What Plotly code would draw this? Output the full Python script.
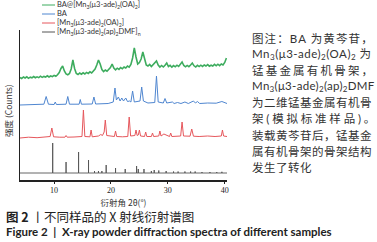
import plotly.graph_objects as go

# ---------------- data (2θ in degrees, intensity in arbitrary units above each pattern's baseline)
series_names = [
    "BA@[Mn<sub>3</sub>(μ3-ade)<sub>2</sub>(OA)<sub>2</sub>]",
    "BA",
    "[Mn<sub>3</sub>(μ3-ade)<sub>2</sub>(OA)<sub>2</sub>]",
    "[Mn<sub>3</sub>(μ3-ade)<sub>2</sub>(ap)<sub>2</sub>DMF]<sub>n</sub>",
]

green_2theta = [
    4.0, 4.3, 4.6, 4.9, 5.2, 5.5, 5.8, 6.1, 6.4, 6.7,
    7.0, 7.3, 7.6, 7.9, 8.2, 8.5, 8.8, 9.1, 9.4, 9.7,
    10.0, 10.3, 10.6, 10.9, 11.2, 11.5, 11.8, 12.1, 12.4, 12.7,
    13.0, 13.3, 13.6, 13.9, 14.2, 14.5, 14.8, 15.1, 15.4, 15.7,
    16.0, 16.3, 16.6, 16.9, 17.2, 17.5, 17.8, 18.1, 18.4, 18.7,
    19.0, 19.3, 19.6, 19.9, 20.2, 20.5, 20.8, 21.1, 21.4, 21.7,
    22.0, 22.3, 22.6, 22.9, 23.2, 23.5, 23.8, 24.1, 24.4, 24.7,
    25.0, 25.3, 25.6, 25.9, 26.2, 26.5, 26.8, 27.1, 27.4, 27.7,
    28.0, 28.3, 28.6, 28.9, 29.2, 29.5, 29.8, 30.1, 30.4, 30.7,
    31.0, 31.3, 31.6, 31.9, 32.2, 32.5, 32.8, 33.1, 33.4, 33.7,
    34.0, 34.3, 34.6, 34.9, 35.2, 35.5, 35.8, 36.1, 36.4, 36.7,
    37.0, 37.3, 37.6, 37.9, 38.2, 38.5, 38.8, 39.1, 39.4, 39.7,
    40.0, 40.3,
]
green_intensity = [
    0.5, -0.5, 1.0, 0.0, 1.2, -0.3, 0.8, 0.2, 1.5, 0.3,
    1.2, 0.4, 1.8, 0.6, 1.6, 0.9, 2.2, 1.0, 2.0, 1.3,
    2.6, 1.8, 3.2, 5.5, 9.5, 12.0, 7.0, 4.0, 3.2, 4.5,
    9.0, 18.0, 9.5, 4.5, 3.5, 5.0, 3.8, 5.2, 4.0, 5.6,
    4.6, 6.2, 5.0, 7.0, 9.0, 13.0, 18.0, 14.0, 8.5, 6.5,
    8.0, 6.8, 8.5, 10.5, 14.0, 10.0, 8.2, 9.8, 8.6, 10.5,
    9.2, 11.0, 10.0, 12.0, 10.8, 13.5, 20.0, 30.0, 21.0, 14.0,
    15.5, 19.0, 26.0, 18.0, 13.0, 12.0, 13.5, 11.5, 13.0, 14.5,
    17.0, 13.0, 11.0, 12.5, 11.0, 12.8, 15.0, 11.5, 12.6, 10.8,
    12.4, 11.2, 12.8, 11.6, 13.5, 16.0, 12.5, 11.2, 12.6, 11.4,
    13.0, 15.0, 12.2, 11.0, 12.6, 11.4, 12.8, 11.6, 13.0, 12.0,
    13.4, 11.8, 12.8, 12.0, 13.6, 12.2, 13.8, 12.4, 14.0, 13.0,
    15.5, 20.0,
]

blue_2theta = [
    4.0, 6.0, 8.2, 8.6, 9.0, 10.0, 10.2, 10.4, 12.1, 12.4,
    12.7, 14.4, 14.6, 14.8, 16.7, 17.0, 17.3, 19.5, 20.4, 20.7,
    20.95, 21.3, 21.6, 21.9, 22.2, 22.6, 22.9, 23.3, 23.5, 23.8,
    24.1, 25.1, 25.4, 25.7, 26.5, 27.7, 28.0, 28.3, 29.2, 29.5,
    29.8, 30.8, 31.1, 31.7, 32.3, 33.0, 33.6, 34.5, 34.85, 35.2,
    35.6, 37.0, 38.5, 39.5, 40.4,
]
blue_intensity = [
    0.0, 0.5, 0.8, 8.5, 0.8, 0.5, 3.0, 0.5, 0.8, 8.5,
    0.8, 0.8, 5.5, 0.8, 1.0, 8.0, 1.0, 1.5, 3.0, 17.0,
    5.0, 8.0, 4.0, 7.0, 4.0, 7.0, 3.5, 4.0, 3.0, 14.0,
    3.0, 4.0, 18.0, 4.0, 2.0, 2.5, 29.0, 3.0, 2.0, 6.5,
    2.0, 3.0, 1.5, 2.5, 1.5, 3.0, 1.5, 4.0, 2.0, 3.5,
    1.5, 2.0, 1.8, 3.5, 1.5,
]

red_2theta = [
    4.0, 5.5, 7.0, 8.5, 9.3, 9.6, 9.9, 11.0, 11.9, 12.1,
    12.3, 13.5, 14.9, 15.15, 15.4, 16.3, 16.5, 16.7, 17.8, 18.2,
    18.5, 18.8, 19.0, 19.25, 20.6, 20.8, 21.0, 22.0, 22.95, 23.2,
    23.45, 24.2, 24.4, 24.6, 24.8, 25.0, 25.2, 25.9, 26.1, 26.3,
    27.1, 27.3, 27.5, 28.4, 28.6, 28.8, 29.3, 30.3, 30.5, 30.7,
    31.5, 32.25, 32.5, 32.75, 33.9, 34.2, 34.5, 35.5, 37.0, 38.3,
    39.4, 39.6, 39.8, 40.4,
]
red_intensity = [
    0.0, 0.8, 0.3, 1.0, 1.5, 10.0, 1.2, 0.8, 0.8, 2.5,
    0.8, 1.0, 1.5, 28.0, 1.5, 1.2, 8.0, 1.2, 2.0, 3.5,
    2.5, 6.0, 18.0, 2.5, 1.5, 7.0, 1.5, 1.2, 1.5, 21.0,
    2.0, 2.5, 8.0, 2.5, 3.0, 8.0, 2.0, 1.5, 6.0, 1.5,
    1.5, 5.0, 1.5, 2.0, 7.0, 2.0, 4.0, 1.5, 5.0, 1.5,
    2.0, 2.0, 16.0, 2.0, 1.8, 9.0, 1.8, 1.5, 2.0, 1.5,
    2.0, 8.0, 2.0, 1.5,
]

# simulated standard pattern: stick positions and heights
black_2theta = [9.75, 12.1, 14.3, 16.05, 17.1, 17.8, 18.4, 19.15, 20.8, 22.5,
                24.5, 24.8, 25.8, 27.1, 27.6, 28.4, 29.7, 31.0, 31.8, 33.0,
                34.0, 34.8, 36.0, 37.4, 38.6, 39.5]
black_intensity = [30, 11, 21, 13, 2, 2, 2, 8, 5, 4,
                   7, 4, 4, 2, 3, 2.5, 2, 1.5, 1.5, 1.5,
                   1.5, 1.5, 1, 1, 1, 1.2]

x_ticks = [10, 20, 30, 40]
x_range = [4, 40.4]

# ---------------- styles / layout
colors = ["#3dac5e", "#4f86d0", "#e6575c", "#555555"]
offsets = [102, 75, 42, 7]

# build stick line for the simulated pattern
bx, by = [x_range[0]], [0]
for p, h in zip(black_2theta, black_intensity):
    bx += [p, p, p]
    by += [0, h, 0]
bx.append(x_range[1])
by.append(0)

fig = go.Figure()
data = [
    (green_2theta, green_intensity, 1.6),
    (blue_2theta, blue_intensity, 1.0),
    (red_2theta, red_intensity, 1.0),
    (bx, by, 0.9),
]
for (xs, ys, w), c, off, name in zip(data, colors, offsets, series_names):
    fig.add_trace(go.Scatter(
        x=xs, y=[v + off for v in ys], mode="lines", name=name,
        line=dict(color=c, width=w), showlegend=False, hoverinfo="skip",
    ))

L, T, W, H = 20, 30, 207, 150


def px(xp):
    return (xp - L) / W


def py(yp):
    return (T + H - yp) / H


shapes = []
annotations = []
# manual legend
for i, (name, c) in enumerate(zip(series_names, colors)):
    yy = [5, 14, 23, 32][i]
    shapes.append(dict(type="line", xref="paper", yref="paper",
                       x0=px(42), x1=px(55), y0=py(yy), y1=py(yy),
                       line=dict(color=c, width=1)))
    annotations.append(dict(xref="paper", yref="paper", x=px(55), y=py(yy),
                            xanchor="left", yanchor="middle", showarrow=False,
                            text=name, font=dict(size=7.5, color="#333", family="Lato")))

# y axis title
annotations.append(dict(xref="paper", yref="paper", x=px(8), y=py(111),
                        xanchor="center", yanchor="middle", showarrow=False,
                        textangle=-90, text="强度 (Counts)",
                        font=dict(size=8.5, color="#333", family="Noto Sans CJK SC")))

# side note
note_lines = [
    "图注：BA 为黄芩苷，",
    "Mn<sub>3</sub>(μ3-ade)<sub>2</sub>(OA)<sub>2</sub> 为",
    "锰基金属有机骨架，",
    "Mn<sub>3</sub>(μ3-ade)<sub>2</sub>(ap)<sub>2</sub>DMF",
    "为二维锰基金属有机骨",
    "架(模拟标准样品)。",
    "装载黄芩苷后，锰基金",
    "属有机骨架的骨架结构",
    "发生了转化",
]
note_spacing = ["1.1px", "0.5px", "2.2px", "0.3px", "0.5px", "2.8px", "0.5px", "0.5px", "0.5px"]
for i, (t, sp) in enumerate(zip(note_lines, note_spacing)):
    annotations.append(dict(xref="paper", yref="paper", x=px(250), y=py(38 + 16.2 * i),
                            xanchor="left", yanchor="middle", showarrow=False,
                            text=f'<span style="letter-spacing:{sp}">{t}</span>',
                            font=dict(size=11.5, color="#333",
                                      family="Lato, Noto Sans CJK SC")))

# captions
annotations.append(dict(xref="paper", yref="paper", x=px(4), y=py(216),
                        xanchor="left", yanchor="middle", showarrow=False,
                        text="<b>图 2</b> 丨不同样品的 X 射线衍射谱图",
                        font=dict(size=12.5, color="#222", family="Noto Sans CJK SC")))
annotations.append(dict(xref="paper", yref="paper", x=px(4), y=py(231),
                        xanchor="left", yanchor="middle", showarrow=False,
                        text="<b>Figure 2  |  X-ray powder diffraction spectra of different samples</b>",
                        font=dict(size=11.5, color="#222", family="Lato")))

fig.update_layout(
    width=377, height=242,
    margin=dict(l=L, r=377 - L - W, t=T, b=242 - T - H, pad=0),
    paper_bgcolor="white", plot_bgcolor="white",
    shapes=shapes, annotations=annotations,
    xaxis=dict(range=x_range, tickvals=x_ticks, ticks="outside", ticklen=2,
               tickcolor="#222", showgrid=False, zeroline=False,
               showline=True, linecolor="#222", linewidth=1.6,
               tickfont=dict(size=8, family="Liberation Serif", color="#222"),
               title=dict(text="衍射角 2θ(°)", standoff=6,
                          font=dict(size=8.5, family="Noto Sans CJK SC", color="#333"))),
    yaxis=dict(range=[0, 150], showticklabels=False, ticks="", showgrid=False,
               zeroline=False, showline=True, linecolor="#222", linewidth=1),
    showlegend=False,
)

fig.write_html("out.html", config={"displayModeBar": False},
               post_script="document.body.style.margin='0px';")
